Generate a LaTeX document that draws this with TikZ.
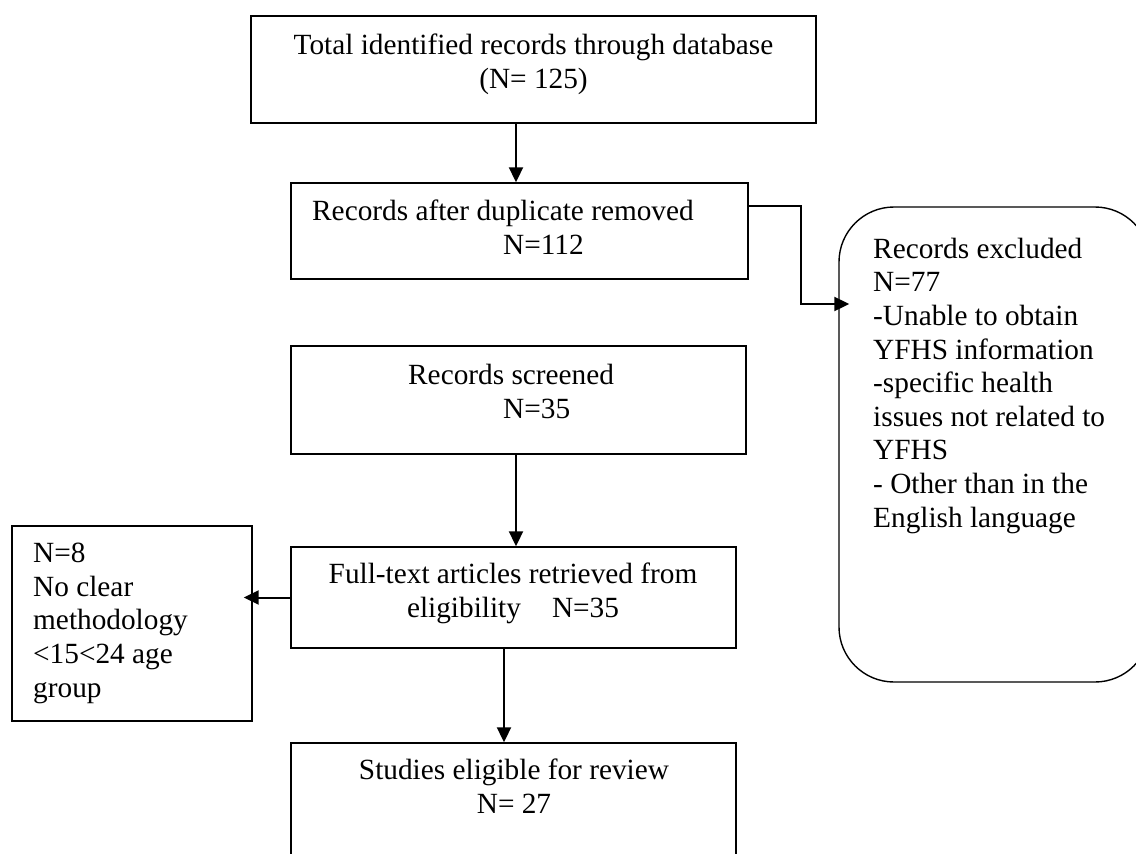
\documentclass[tikz,border=0pt]{standalone}
\usepackage{fontspec}
\setmainfont{Liberation Serif}
\usetikzlibrary{arrows.meta}

\begin{document}
\begin{tikzpicture}[x=1pt,y=-1pt,
              box/.style={draw, line width=1.4pt, inner sep=0pt},
              txt/.style={inner sep=0pt, font=\fontsize{29.3}{33.6}\selectfont},
              link/.style={line width=2pt, -{Triangle[length=15pt,width=14pt]}}]
              \useasboundingbox (0,0) rectangle (1136,854);
              \clip (0,0) rectangle (1136,854);
              \begin{scope}
              \node[box, minimum width=565, minimum height=107] (total) at (533.5,69.5) {};
              \node[box, minimum width=457, minimum height=96] (dup) at (519.5,231) {};
              \node[box, minimum width=455, minimum height=108] (screen) at (518.5,400) {};
              \node[box, minimum width=445, minimum height=101] (full) at (513.5,597.5) {};
              \node[box, minimum width=445, minimum height=140] (elig) at (513.5,813) {};
              \node[box, minimum width=240, minimum height=195] (nodata) at (132,623.5) {};
              \node[box, rounded corners=55pt, minimum width=311, minimum height=475] (excl) at (994.5,444.5) {};
              \node[txt, align=center, anchor=base] (total-txt) at (533.5,88) {Total identified records through database\\(N= 125)};
              \node[txt, align=left, anchor=base west] (dup-txt) at (312,254) {Records after duplicate removed\\\hspace*{191pt}N=112};
              \node[txt, align=left, anchor=base west] (screen-txt) at (408,418) {Records screened\\\hspace*{95pt}N=35};
              \node[txt, align=center, anchor=base] (full-txt) at (513,617) {Full-text articles retrieved from\\eligibility\hspace{31pt}N=35};
              \node[txt, align=center, anchor=base] (elig-txt) at (514,813) {Studies eligible for review\\N= 27};
              \node[txt, align=left, anchor=base west] (nodata-txt) at (33,697) {N=8\\No clear\\methodology\\<15<24 age\\group};
              \node[txt, align=left, anchor=base west] (excl-txt) at (873,527) {Records excluded\\N=77\\-Unable to obtain\\YFHS information\\-specific health\\issues not related to\\YFHS\\- Other than in the\\English language};
              \draw[link] ([xshift=-17.5pt]total.south) -- ([xshift=-3.5pt]dup.north);
              \draw[link, shorten >=-11pt] ([yshift=-24pt]dup.north east) -- ++(52,0) |- ([yshift=140.5pt]excl.west);
              \draw[link] ([xshift=-2.5pt]screen.south) -- ([xshift=2.5pt]full.north);
              \draw[link] ([xshift=-9.5pt]full.south) -- ([xshift=-9.5pt]elig.north);
              \draw[link, shorten >=-9pt] (full.west) -- (full.west -| nodata.east);
              \end{scope}
            \end{tikzpicture}
\end{document}
